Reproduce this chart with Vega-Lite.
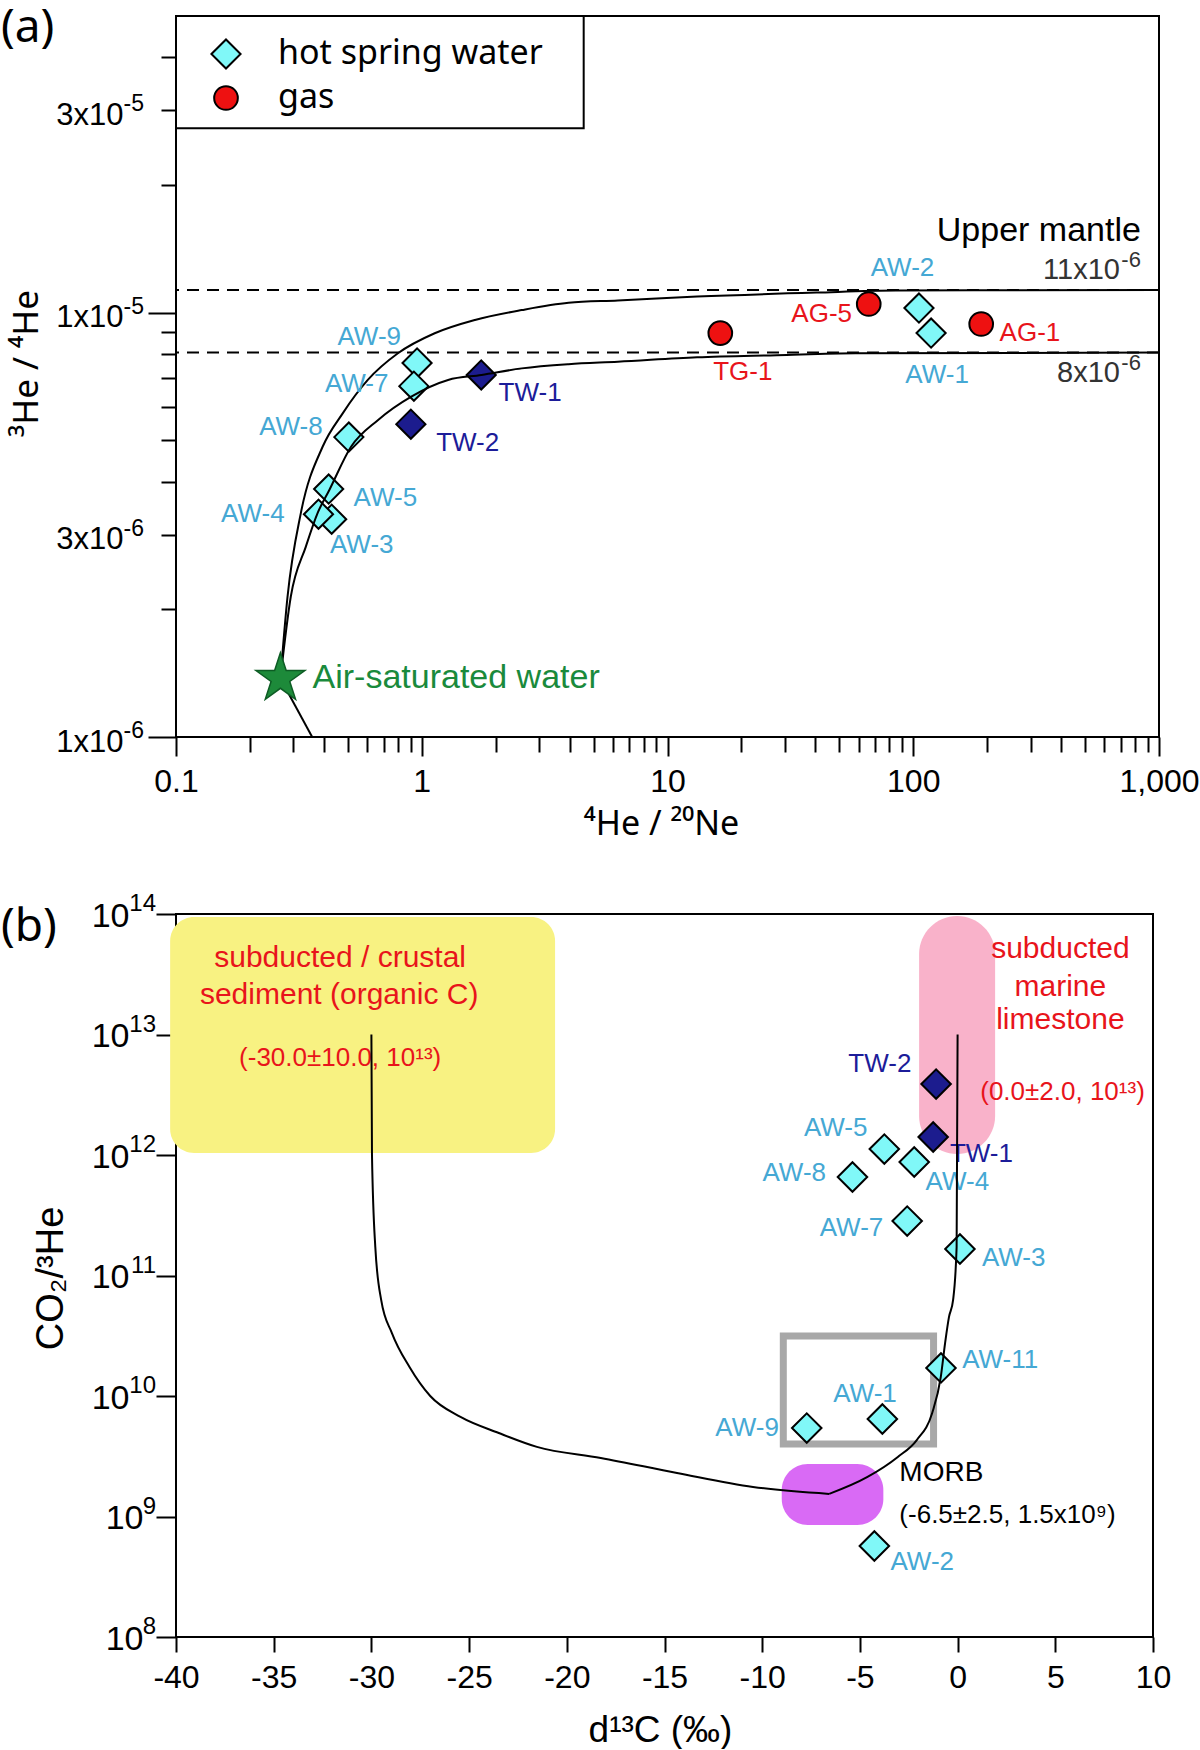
{
  "$schema": "https://vega.github.io/schema/vega-lite/v6.json",
  "padding": {"top": 4, "left": 0, "right": 0, "bottom": 0},
  "background": "white",
  "bounds": "flush",
  "spacing": 177,
  "config": {
    "font": "Liberation Sans",
    "view": {"stroke": "black", "strokeWidth": 2},
    "axis": {"domain": false, "grid": false, "tickColor": "black", "tickWidth": 2, "labelColor": "black", "titleColor": "black", "titleFontWeight": "normal", "labelFont": "Liberation Sans", "titleFont": "Liberation Sans", "labelOverlap": false, "labelFlush": false},
    "text": {"font": "Liberation Sans"}
  },
  "vconcat": [
    {
      "width": 983,
      "height": 721,
      "title": {"text": "(a)", "anchor": "start", "frame": "group", "dx": -175, "offset": -37, "baseline": "top", "font": "Noto Sans", "fontSize": 46, "fontWeight": "normal", "color": "black"},
      "resolve": {"axis": {"x": "independent", "y": "independent"}},
      "layer": [
        {
          "data": {"values": [{"y": 0.0000113}, {"y": 0.00000805}]},
          "mark": {"type": "rule", "strokeDash": [12, 8], "strokeWidth": 2, "color": "black"},
          "encoding": {
            "y": {"field": "y", "type": "quantitative", "scale": {"type": "log", "domain": [0.000001, 0.00005], "nice": false}, "axis": null}
          }
        },
        {
          "data": {"values": [{"x1": 0.1, "x2": 4.56, "y1": 0.0000272, "y2": 0.00005}]},
          "mark": {"type": "rect", "fill": "white", "stroke": "black", "strokeWidth": 2},
          "encoding": {
            "x": {"field": "x1", "type": "quantitative", "scale": {"type": "log", "domain": [0.1, 1000], "nice": false}, "axis": null},
            "x2": {"field": "x2"},
            "y": {"field": "y1", "type": "quantitative", "scale": {"type": "log", "domain": [0.000001, 0.00005], "nice": false}, "axis": null},
            "y2": {"field": "y2"}
          }
        },
        {
          "data": {"values": [
            {"name": "AW-9", "x": 0.957, "y": 0.00000761, "kind": "hot spring water", "tw": false},
            {"name": "AW-7", "x": 0.929, "y": 0.00000671, "kind": "hot spring water", "tw": false},
            {"name": "TW-1", "x": 1.746, "y": 0.00000713, "kind": "hot spring water", "tw": true},
            {"name": "TW-2", "x": 0.903, "y": 0.00000546, "kind": "hot spring water", "tw": true},
            {"name": "AW-8", "x": 0.505, "y": 0.00000509, "kind": "hot spring water", "tw": false},
            {"name": "AW-5", "x": 0.418, "y": 0.00000384, "kind": "hot spring water", "tw": false},
            {"name": "AW-3", "x": 0.43, "y": 0.00000326, "kind": "hot spring water", "tw": false},
            {"name": "AW-4", "x": 0.38, "y": 0.00000335, "kind": "hot spring water", "tw": false},
            {"name": "AW-2", "x": 105.5, "y": 0.00001025, "kind": "hot spring water", "tw": false},
            {"name": "AW-1", "x": 118.2, "y": 0.00000895, "kind": "hot spring water", "tw": false},
            {"name": "AG-5", "x": 65.9, "y": 0.00001048, "kind": "gas", "tw": false},
            {"name": "TG-1", "x": 16.4, "y": 0.00000895, "kind": "gas", "tw": false},
            {"name": "AG-1", "x": 189, "y": 0.0000094, "kind": "gas", "tw": false}
          ]},
          "mark": {"type": "point", "filled": true, "stroke": "black", "strokeWidth": 2, "opacity": 1},
          "encoding": {
            "x": {"field": "x", "type": "quantitative", "scale": {"type": "log", "domain": [0.1, 1000], "nice": false},
              "axis": {"orient": "bottom", "values": [0.1, 1, 10, 100, 1000], "format": ",~g", "tickSize": 19, "labelPadding": 10, "labelFontSize": 32, "title": "⁴He / ²⁰Ne", "titleFont": "Noto Sans", "titleFontSize": 34, "titleX": 485, "titleY": 87, "titleBaseline": "middle"}},
            "y": {"field": "y", "type": "quantitative", "scale": {"type": "log", "domain": [0.000001, 0.00005], "nice": false},
              "axis": {"orient": "left", "values": [0.000001, 0.00001], "tickSize": 28, "labelPadding": 25, "labelFontSize": 31, "labelOffset": 5, "labelExpr": "'1x10'", "title": "³He / ⁴He", "titleFont": "Noto Sans", "titleFontSize": 35, "titleX": -150, "titleY": 347, "titleBaseline": "middle", "titleAngle": -90}},
            "shape": {"field": "kind", "type": "nominal", "scale": {"domain": ["hot spring water", "gas"], "range": ["diamond", "circle"]}},
            "size": {"field": "kind", "type": "nominal", "scale": {"domain": ["hot spring water", "gas"], "range": [850, 560]}},
            "fill": {
              "condition": {"test": "datum.tw", "value": "#1c1c8e"},
              "field": "kind", "type": "nominal",
              "scale": {"domain": ["hot spring water", "gas"], "range": ["#80f8f8", "#ee1111"]},
              "legend": {"orient": "none", "legendX": 0, "legendY": 2, "title": null, "padding": 19, "symbolOffset": 14, "labelOffset": 35, "rowPadding": 8, "labelLimit": 600, "symbolSize": 800, "labelFont": "Noto Sans", "labelFontSize": 34, "labelColor": "black", "symbolStrokeColor": "black", "symbolStrokeWidth": 2}
            }
          }
        },
        {
          "data": {"values": [
            {"c": "u", "x": 0.266, "y": 0.000001374},
            {"c": "u", "x": 0.2843, "y": 0.00000214},
            {"c": "u", "x": 0.3221, "y": 0.00000337},
            {"c": "u", "x": 0.395, "y": 0.00000483},
            {"c": "u", "x": 0.4768, "y": 0.00000579},
            {"c": "u", "x": 0.6031, "y": 0.00000694},
            {"c": "u", "x": 0.7998, "y": 0.00000802},
            {"c": "u", "x": 1.129, "y": 0.00000894},
            {"c": "u", "x": 1.646, "y": 0.00000961},
            {"c": "u", "x": 2.551, "y": 0.00001014},
            {"c": "u", "x": 3.958, "y": 0.00001055},
            {"c": "u", "x": 6.28, "y": 0.00001068},
            {"c": "u", "x": 13.2, "y": 0.00001091},
            {"c": "u", "x": 40.4, "y": 0.00001115},
            {"c": "u", "x": 85, "y": 0.00001127},
            {"c": "u", "x": 1000, "y": 0.0000113},
            {"c": "l", "x": 0.266, "y": 0.000001374},
            {"c": "l", "x": 0.2931, "y": 0.00000214},
            {"c": "l", "x": 0.3376, "y": 0.00000281},
            {"c": "l", "x": 0.3768, "y": 0.00000337},
            {"c": "l", "x": 0.4207, "y": 0.00000382},
            {"c": "l", "x": 0.5155, "y": 0.00000483},
            {"c": "l", "x": 0.6627, "y": 0.00000558},
            {"c": "l", "x": 0.9065, "y": 0.00000634},
            {"c": "l", "x": 1.28, "y": 0.00000694},
            {"c": "l", "x": 1.751, "y": 0.00000713},
            {"c": "l", "x": 2.551, "y": 0.00000739},
            {"c": "l", "x": 3.958, "y": 0.00000756},
            {"c": "l", "x": 6.28, "y": 0.00000766},
            {"c": "l", "x": 13.2, "y": 0.00000785},
            {"c": "l", "x": 27.8, "y": 0.00000794},
            {"c": "l", "x": 58.3, "y": 0.00000802},
            {"c": "l", "x": 1000, "y": 0.00000805},
            {"c": "c", "x": 0.266, "y": 0.000001374},
            {"c": "c", "x": 0.374, "y": 0.000000955}
          ]},
          "mark": {"type": "line", "color": "black", "strokeWidth": 2, "clip": true, "interpolate": "monotone"},
          "encoding": {
            "x": {"field": "x", "type": "quantitative", "scale": {"type": "log", "domain": [0.1, 1000], "nice": false},
              "axis": {"orient": "bottom", "values": [0.2, 0.3, 0.4, 0.5, 0.6, 0.7, 0.8, 0.9, 2, 3, 4, 5, 6, 7, 8, 9, 20, 30, 40, 50, 60, 70, 80, 90, 200, 300, 400, 500, 600, 700, 800, 900], "tickSize": 15, "labels": false, "title": null}},
            "y": {"field": "y", "type": "quantitative", "scale": {"type": "log", "domain": [0.000001, 0.00005], "nice": false},
              "axis": {"orient": "left", "values": [0.000002, 0.000003, 0.000004, 0.000005, 0.000006, 0.000007, 0.000008, 0.000009, 0.00002, 0.00003, 0.00004], "tickSize": 15, "labelPadding": 38, "labelFontSize": 31, "labelOffset": 5, "labelExpr": "abs(datum.value - 0.000003) < 0.0000001 ? '3x10' : (abs(datum.value - 0.00003) < 0.000001 ? '3x10' : '')", "title": null}},
            "detail": {"field": "c", "type": "nominal"}
          }
        },
        {
          "data": {"values": [
            {"y": 0.000001, "e": "-6"},
            {"y": 0.000003, "e": "-6"},
            {"y": 0.00001, "e": "-5"},
            {"y": 0.00003, "e": "-5"}
          ]},
          "mark": {"type": "text", "fontSize": 23, "align": "right", "baseline": "middle", "dx": -32, "dy": -6, "color": "black"},
          "encoding": {
            "x": {"datum": 0.1, "type": "quantitative", "scale": {"type": "log", "domain": [0.1, 1000], "nice": false}, "axis": null},
            "y": {"field": "y", "type": "quantitative", "scale": {"type": "log", "domain": [0.000001, 0.00005], "nice": false}, "axis": null},
            "text": {"field": "e"}
          }
        },
        {
          "data": {"values": [{"x": 0.266, "y": 0.000001374}]},
          "mark": {"type": "point", "shape": "M0,-1L0.2245,-0.309L0.951,-0.309L0.363,0.118L0.588,0.809L0,0.382L-0.588,0.809L-0.363,0.118L-0.951,-0.309L-0.2245,-0.309Z", "size": 2650, "filled": true, "fill": "#1d8a3a", "stroke": "#0d5c24", "strokeWidth": 1.5, "opacity": 1},
          "encoding": {
            "x": {"field": "x", "type": "quantitative", "scale": {"type": "log", "domain": [0.1, 1000], "nice": false}, "axis": null},
            "y": {"field": "y", "type": "quantitative", "scale": {"type": "log", "domain": [0.000001, 0.00005], "nice": false}, "axis": null}
          }
        },
        {
          "data": {"values": [
            {"t": "AW-9", "x": 0.6115, "y": 0.00000876, "c": "aw"},
            {"t": "AW-7", "x": 0.5436, "y": 0.00000679, "c": "aw"},
            {"t": "AW-8", "x": 0.2935, "y": 0.00000539, "c": "aw"},
            {"t": "TW-1", "x": 2.761, "y": 0.00000647, "c": "tw"},
            {"t": "TW-2", "x": 1.538, "y": 0.00000493, "c": "tw"},
            {"t": "AW-5", "x": 0.711, "y": 0.00000366, "c": "aw"},
            {"t": "AW-4", "x": 0.2054, "y": 0.00000336, "c": "aw"},
            {"t": "AW-3", "x": 0.57, "y": 0.00000284, "c": "aw"},
            {"t": "AW-2", "x": 90.4, "y": 0.00001277, "c": "aw"},
            {"t": "AW-1", "x": 125, "y": 0.00000711, "c": "aw"},
            {"t": "AG-5", "x": 42.4, "y": 0.0000099, "c": "gas"},
            {"t": "TG-1", "x": 20.25, "y": 0.00000724, "c": "gas"},
            {"t": "AG-1", "x": 298.5, "y": 0.00000893, "c": "gas"}
          ]},
          "mark": {"type": "text", "fontSize": 26, "align": "center", "baseline": "middle"},
          "encoding": {
            "x": {"field": "x", "type": "quantitative", "scale": {"type": "log", "domain": [0.1, 1000], "nice": false}, "axis": null},
            "y": {"field": "y", "type": "quantitative", "scale": {"type": "log", "domain": [0.000001, 0.00005], "nice": false}, "axis": null},
            "text": {"field": "t"},
            "color": {"field": "c", "type": "nominal", "scale": {"domain": ["aw", "tw", "gas"], "range": ["#45a8d4", "#1c1c99", "#e8141b"]}, "legend": null}
          }
        },
        {
          "data": {"values": [{"t": "Upper mantle", "x": 844, "y": 0.00001557}]},
          "mark": {"type": "text", "fontSize": 34, "align": "right", "baseline": "middle", "color": "black"},
          "encoding": {
            "x": {"field": "x", "type": "quantitative", "scale": {"type": "log", "domain": [0.1, 1000], "nice": false}, "axis": null},
            "y": {"field": "y", "type": "quantitative", "scale": {"type": "log", "domain": [0.000001, 0.00005], "nice": false}, "axis": null},
            "text": {"field": "t"}
          }
        },
        {
          "data": {"values": [{"t": "11x10", "x": 844, "y": 0.00001284}, {"t": "8x10", "x": 844, "y": 0.00000734}]},
          "mark": {"type": "text", "fontSize": 29, "align": "right", "baseline": "middle", "dx": -21, "dy": 3, "color": "#333333"},
          "encoding": {
            "x": {"field": "x", "type": "quantitative", "scale": {"type": "log", "domain": [0.1, 1000], "nice": false}, "axis": null},
            "y": {"field": "y", "type": "quantitative", "scale": {"type": "log", "domain": [0.000001, 0.00005], "nice": false}, "axis": null},
            "text": {"field": "t"}
          }
        },
        {
          "data": {"values": [{"t": "-6", "x": 844, "y": 0.00001284}, {"t": "-6", "x": 844, "y": 0.00000734}]},
          "mark": {"type": "text", "fontSize": 22, "align": "right", "baseline": "middle", "dy": -7, "color": "#333333"},
          "encoding": {
            "x": {"field": "x", "type": "quantitative", "scale": {"type": "log", "domain": [0.1, 1000], "nice": false}, "axis": null},
            "y": {"field": "y", "type": "quantitative", "scale": {"type": "log", "domain": [0.000001, 0.00005], "nice": false}, "axis": null},
            "text": {"field": "t"}
          }
        },
        {
          "data": {"values": [{"t": "Air-saturated water", "x": 0.3594, "y": 0.000001375}]},
          "mark": {"type": "text", "fontSize": 34, "align": "left", "baseline": "middle", "color": "#1a8a3c"},
          "encoding": {
            "x": {"field": "x", "type": "quantitative", "scale": {"type": "log", "domain": [0.1, 1000], "nice": false}, "axis": null},
            "y": {"field": "y", "type": "quantitative", "scale": {"type": "log", "domain": [0.000001, 0.00005], "nice": false}, "axis": null},
            "text": {"field": "t"}
          }
        }
      ]
    },
    {
      "width": 977,
      "height": 723,
      "title": {"text": "(b)", "anchor": "start", "frame": "group", "dx": -175, "offset": -59, "baseline": "top", "font": "Noto Sans", "fontSize": 46, "fontWeight": "normal", "color": "black"},
      "resolve": {"axis": {"x": "independent", "y": "independent"}},
      "layer": [
        {
          "data": {"values": [{"x1": -40.3, "x2": -20.6, "y1": 1040000000000, "y2": 94400000000000}]},
          "mark": {"type": "rect", "cornerRadius": 24, "color": "#f8f282"},
          "encoding": {
            "x": {"field": "x1", "type": "quantitative", "scale": {"domain": [-40, 10], "nice": false, "zero": false}, "axis": null},
            "x2": {"field": "x2"},
            "y": {"field": "y1", "type": "quantitative", "scale": {"type": "log", "domain": [100000000, 100000000000000], "nice": false}, "axis": null},
            "y2": {"field": "y2"}
          }
        },
        {
          "data": {"values": [{"x1": -1.97, "x2": 1.92, "y1": 1020000000000, "y2": 96300000000000}]},
          "mark": {"type": "rect", "cornerRadius": 38, "color": "#f9b2ca"},
          "encoding": {
            "x": {"field": "x1", "type": "quantitative", "scale": {"domain": [-40, 10], "nice": false, "zero": false}, "axis": null},
            "x2": {"field": "x2"},
            "y": {"field": "y1", "type": "quantitative", "scale": {"type": "log", "domain": [100000000, 100000000000000], "nice": false}, "axis": null},
            "y2": {"field": "y2"}
          }
        },
        {
          "data": {"values": [{"x1": -9.0, "x2": -3.8, "y1": 850000000, "y2": 2730000000}]},
          "mark": {"type": "rect", "cornerRadius": 26, "color": "#d96af5"},
          "encoding": {
            "x": {"field": "x1", "type": "quantitative", "scale": {"domain": [-40, 10], "nice": false, "zero": false}, "axis": null},
            "x2": {"field": "x2"},
            "y": {"field": "y1", "type": "quantitative", "scale": {"type": "log", "domain": [100000000, 100000000000000], "nice": false}, "axis": null},
            "y2": {"field": "y2"}
          }
        },
        {
          "data": {"values": [{"x1": -8.92, "x2": -1.23, "y1": 4000000000, "y2": 31500000000}]},
          "mark": {"type": "rect", "filled": false, "color": "#a8a8a8", "strokeWidth": 7},
          "encoding": {
            "x": {"field": "x1", "type": "quantitative", "scale": {"domain": [-40, 10], "nice": false, "zero": false}, "axis": null},
            "x2": {"field": "x2"},
            "y": {"field": "y1", "type": "quantitative", "scale": {"type": "log", "domain": [100000000, 100000000000000], "nice": false}, "axis": null},
            "y2": {"field": "y2"}
          }
        },
        {
          "data": {"values": [
            {"name": "TW-2", "x": -1.1, "y": 3880000000000, "tw": true},
            {"name": "TW-1", "x": -1.25, "y": 1410000000000, "tw": true},
            {"name": "AW-5", "x": -3.75, "y": 1120000000000, "tw": false},
            {"name": "AW-4", "x": -2.22, "y": 875000000000, "tw": false},
            {"name": "AW-8", "x": -5.38, "y": 657000000000, "tw": false},
            {"name": "AW-7", "x": -2.58, "y": 283000000000, "tw": false},
            {"name": "AW-3", "x": 0.12, "y": 166000000000, "tw": false},
            {"name": "AW-11", "x": -0.85, "y": 17100000000, "tw": false},
            {"name": "AW-1", "x": -3.85, "y": 6440000000, "tw": false},
            {"name": "AW-9", "x": -7.72, "y": 5420000000, "tw": false},
            {"name": "AW-2", "x": -4.26, "y": 569000000, "tw": false}
          ]},
          "mark": {"type": "point", "shape": "diamond", "size": 870, "filled": true, "stroke": "black", "strokeWidth": 2, "opacity": 1},
          "encoding": {
            "x": {"field": "x", "type": "quantitative", "scale": {"domain": [-40, 10], "nice": false, "zero": false},
              "axis": {"orient": "bottom", "values": [-40, -35, -30, -25, -20, -15, -10, -5, 0, 5, 10], "tickSize": 15, "labelPadding": 10, "labelFontSize": 32, "labelExpr": "datum.value + ''", "title": "d¹³C (‰)", "titleFontSize": 37, "titleX": 484, "titleY": 93, "titleBaseline": "middle"}},
            "y": {"field": "y", "type": "quantitative", "scale": {"type": "log", "domain": [100000000, 100000000000000], "nice": false},
              "axis": {"orient": "left", "values": [10000000000, 100000000000, 1000000000000, 10000000000000, 100000000000000], "tickSize": 20, "labelPadding": 27, "labelFontSize": 34, "labelOffset": 2, "labelExpr": "'10'", "title": "CO₂/³He", "titleFontSize": 38, "titleX": -125, "titleY": 364, "titleBaseline": "middle", "titleAngle": -90}},
            "fill": {"condition": {"test": "datum.tw", "value": "#1c1c8e"}, "value": "#80f8f8"}
          }
        },
        {
          "data": {"values": [
            {"y": 100000000, "e": "8"},
            {"y": 1000000000, "e": "9"},
            {"y": 10000000000, "e": "10"},
            {"y": 100000000000, "e": "11"},
            {"y": 1000000000000, "e": "12"},
            {"y": 10000000000000, "e": "13"},
            {"y": 100000000000000, "e": "14"}
          ]},
          "mark": {"type": "text", "fontSize": 24, "align": "right", "baseline": "middle", "dx": -20, "dy": -10, "color": "black"},
          "encoding": {
            "x": {"datum": -40, "type": "quantitative", "scale": {"domain": [-40, 10], "nice": false, "zero": false}, "axis": null},
            "y": {"field": "y", "type": "quantitative", "scale": {"type": "log", "domain": [100000000, 100000000000000], "nice": false}, "axis": null},
            "text": {"field": "e"}
          }
        },
        {
          "data": {"values": [
            {"t": "TW-2", "x": -3.98, "y": 5690000000000, "c": "tw"},
            {"t": "TW-1", "x": 1.22, "y": 1020000000000, "c": "tw"},
            {"t": "AW-5", "x": -6.24, "y": 1675000000000, "c": "aw"},
            {"t": "AW-8", "x": -8.36, "y": 709000000000, "c": "aw"},
            {"t": "AW-4", "x": -0.01, "y": 597000000000, "c": "aw"},
            {"t": "AW-7", "x": -5.43, "y": 248000000000, "c": "aw"},
            {"t": "AW-3", "x": 2.87, "y": 140000000000, "c": "aw"},
            {"t": "AW-11", "x": 2.18, "y": 19900000000, "c": "aw"},
            {"t": "AW-1", "x": -4.74, "y": 10300000000, "c": "aw"},
            {"t": "AW-9", "x": -10.77, "y": 5420000000, "c": "aw"},
            {"t": "AW-2", "x": -1.81, "y": 419000000, "c": "aw"}
          ]},
          "mark": {"type": "text", "fontSize": 26, "align": "center", "baseline": "middle"},
          "encoding": {
            "x": {"field": "x", "type": "quantitative", "scale": {"domain": [-40, 10], "nice": false, "zero": false}, "axis": null},
            "y": {"field": "y", "type": "quantitative", "scale": {"type": "log", "domain": [100000000, 100000000000000], "nice": false}, "axis": null},
            "text": {"field": "t"},
            "color": {"field": "c", "type": "nominal", "scale": {"domain": ["aw", "tw"], "range": ["#1fb4c6", "#1c1c99"]}, "legend": null}
          }
        },
        {
          "data": {"values": [
            {"t": "subducted / crustal", "x": -31.6, "y": 43100000000000},
            {"t": "sediment (organic C)", "x": -31.65, "y": 21300000000000},
            {"t": "subducted", "x": 5.26, "y": 51200000000000},
            {"t": "marine", "x": 5.26, "y": 24800000000000},
            {"t": "limestone", "x": 5.26, "y": 13200000000000}
          ]},
          "mark": {"type": "text", "fontSize": 30, "align": "center", "baseline": "middle", "color": "#e8141b"},
          "encoding": {
            "x": {"field": "x", "type": "quantitative", "scale": {"domain": [-40, 10], "nice": false, "zero": false}, "axis": null},
            "y": {"field": "y", "type": "quantitative", "scale": {"type": "log", "domain": [100000000, 100000000000000], "nice": false}, "axis": null},
            "text": {"field": "t"}
          }
        },
        {
          "data": {"values": [
            {"t": "(-30.0±10.0, 10¹³)", "x": -31.6, "y": 6380000000000},
            {"t": "(0.0±2.0, 10¹³)", "x": 5.37, "y": 3330000000000}
          ]},
          "mark": {"type": "text", "fontSize": 26, "align": "center", "baseline": "middle", "color": "#e8141b"},
          "encoding": {
            "x": {"field": "x", "type": "quantitative", "scale": {"domain": [-40, 10], "nice": false, "zero": false}, "axis": null},
            "y": {"field": "y", "type": "quantitative", "scale": {"type": "log", "domain": [100000000, 100000000000000], "nice": false}, "axis": null},
            "text": {"field": "t"}
          }
        },
        {
          "data": {"values": [{"t": "MORB", "x": -2.98, "y": 2300000000}]},
          "mark": {"type": "text", "fontSize": 28, "align": "left", "baseline": "middle", "color": "black"},
          "encoding": {
            "x": {"field": "x", "type": "quantitative", "scale": {"domain": [-40, 10], "nice": false, "zero": false}, "axis": null},
            "y": {"field": "y", "type": "quantitative", "scale": {"type": "log", "domain": [100000000, 100000000000000], "nice": false}, "axis": null},
            "text": {"field": "t"}
          }
        },
        {
          "data": {"values": [{"t": "(-6.5±2.5, 1.5x10⁹)", "x": -2.98, "y": 1030000000}]},
          "mark": {"type": "text", "fontSize": 26, "align": "left", "baseline": "middle", "color": "black"},
          "encoding": {
            "x": {"field": "x", "type": "quantitative", "scale": {"domain": [-40, 10], "nice": false, "zero": false}, "axis": null},
            "y": {"field": "y", "type": "quantitative", "scale": {"type": "log", "domain": [100000000, 100000000000000], "nice": false}, "axis": null},
            "text": {"field": "t"}
          }
        },
        {
          "data": {"values": [
            {"b": "left", "o": 1, "x": -30.0, "y": 10000000000000},
            {"b": "left", "o": 2, "x": -29.97, "y": 1000000000000},
            {"b": "left", "o": 3, "x": -29.8, "y": 172000000000},
            {"b": "left", "o": 4, "x": -29.5, "y": 62700000000},
            {"b": "left", "o": 5, "x": -28.95, "y": 33300000000},
            {"b": "left", "o": 6, "x": -28.05, "y": 17400000000},
            {"b": "left", "o": 7, "x": -26.99, "y": 10000000000},
            {"b": "left", "o": 8, "x": -25.44, "y": 6700000000},
            {"b": "left", "o": 9, "x": -23.48, "y": 4930000000},
            {"b": "left", "o": 10, "x": -21.53, "y": 3780000000},
            {"b": "left", "o": 11, "x": -18.26, "y": 3060000000},
            {"b": "left", "o": 12, "x": -14.36, "y": 2300000000},
            {"b": "left", "o": 13, "x": -10.47, "y": 1760000000},
            {"b": "left", "o": 14, "x": -6.57, "y": 1540000000},
            {"b": "right", "o": 14, "x": -6.57, "y": 1540000000},
            {"b": "right", "o": 15, "x": -4.61, "y": 2130000000},
            {"b": "right", "o": 16, "x": -3.06, "y": 3120000000},
            {"b": "right", "o": 17, "x": -2.09, "y": 4310000000},
            {"b": "right", "o": 18, "x": -1.3, "y": 7230000000},
            {"b": "right", "o": 19, "x": -0.86, "y": 14400000000},
            {"b": "right", "o": 20, "x": -0.64, "y": 27500000000},
            {"b": "right", "o": 21, "x": -0.44, "y": 45300000000},
            {"b": "right", "o": 22, "x": -0.23, "y": 62700000000},
            {"b": "right", "o": 23, "x": -0.05, "y": 172000000000},
            {"b": "right", "o": 24, "x": 0.0, "y": 10000000000000}
          ]},
          "mark": {"type": "line", "color": "black", "strokeWidth": 2, "clip": true, "interpolate": "monotone"},
          "encoding": {
            "x": {"field": "x", "type": "quantitative", "scale": {"domain": [-40, 10], "nice": false, "zero": false}, "axis": null},
            "y": {"field": "y", "type": "quantitative", "scale": {"type": "log", "domain": [100000000, 100000000000000], "nice": false},
              "axis": {"orient": "left", "values": [100000000, 1000000000], "tickSize": 20, "labelPadding": 13, "labelFontSize": 34, "labelOffset": 2, "labelExpr": "'10'", "title": null}},
            "detail": {"field": "b", "type": "nominal"},
            "order": {"field": "o", "type": "quantitative"}
          }
        }
      ]
    }
  ]
}
